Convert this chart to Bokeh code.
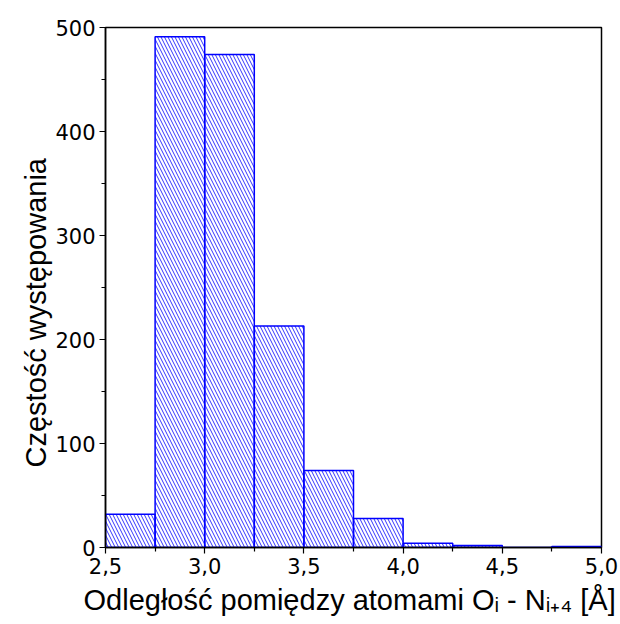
from bokeh.plotting import figure
from bokeh.models import Range1d, FixedTicker, CustomJSTickFormatter, Title
from bokeh.embed import file_html
from bokeh.resources import INLINE

# Histogram of O(i) - N(i+4) distances, bin width 0.25 Å
bin_edges = [2.5, 2.75, 3.0, 3.25, 3.5, 3.75, 4.0, 4.25, 4.5, 4.75, 5.0]
counts = [32, 491, 474, 213, 74, 28, 4, 2, 0, 1]

x_ticks = [2.5, 3.0, 3.5, 4.0, 4.5, 5.0]
x_minor = [2.75, 3.25, 3.75, 4.25, 4.75]
y_ticks = [0, 100, 200, 300, 400, 500]
y_minor = [50, 150, 250, 350, 450]

x_title = "Odległość pomiędzy atomami Oᵢ - Nᵢ₊₄ [Å]"
y_title = "Częstość występowania"

TICK_FONT = "DejaVu Sans"
TITLE_FONT = "Liberation Sans"

p = figure(
    width=620, height=624, title=None,
    output_backend="svg", toolbar_location=None,
    x_range=Range1d(bin_edges[0], bin_edges[-1]),
    y_range=Range1d(0, 500),
    min_border_left=105, min_border_right=19,
    min_border_top=27, min_border_bottom=77,
)

p.quad(
    left=bin_edges[:-1], right=bin_edges[1:], bottom=0, top=counts,
    fill_color=None,
    hatch_pattern="\\", hatch_color="#0000ff", hatch_scale=7, hatch_weight=0.8,
    line_color="#0000ff", line_width=1.5,
)

p.xgrid.visible = False
p.ygrid.visible = False
p.outline_line_color = "black"
p.outline_line_width = 1.5
p.background_fill_color = "white"
p.border_fill_color = "white"

comma = CustomJSTickFormatter(code="return tick.toFixed(1).replace('.', ',');")
p.xaxis.ticker = FixedTicker(ticks=x_ticks, minor_ticks=x_minor)
p.xaxis.formatter = comma
p.yaxis.ticker = FixedTicker(ticks=y_ticks, minor_ticks=y_minor)

for ax in (p.xaxis[0], p.yaxis[0]):
    ax.axis_line_color = "black"
    ax.axis_line_width = 1.5
    ax.major_tick_line_color = "black"
    ax.minor_tick_line_color = "black"
    ax.major_tick_line_width = 1.2
    ax.minor_tick_line_width = 1.2
    ax.major_tick_in = 0
    ax.major_tick_out = 6
    ax.minor_tick_in = 0
    ax.minor_tick_out = 4
    ax.major_label_text_font = TICK_FONT
    ax.major_label_text_font_size = "21px"
    ax.major_label_text_color = "black"
    ax.major_label_standoff = 4

# axis titles live in the side panels so nothing clips them
p.add_layout(Title(
    text=x_title, align="left", offset=-22, standoff=11,
    text_font=TITLE_FONT, text_font_size="29px",
    text_font_style="normal", text_color="black",
), "below")
p.add_layout(Title(
    text=y_title, align="left", offset=80, standoff=1,
    text_font=TITLE_FONT, text_font_size="29px",
    text_font_style="normal", text_color="black",
), "left")

open("out.html", "w").write(file_html(p, INLINE))
